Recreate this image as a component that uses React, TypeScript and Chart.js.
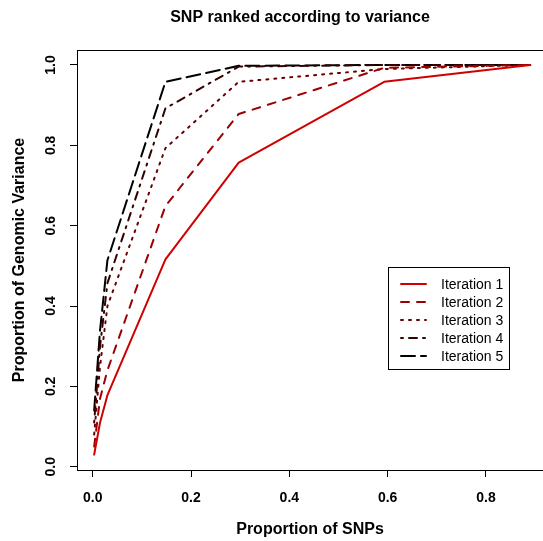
import React, { useEffect, useRef } from "react";
import { Chart, registerables } from "chart.js";

Chart.register(...registerables);

// ---- data ----
const proportionOfSNPs = [0.003, 0.015, 0.03, 0.148, 0.297, 0.593, 0.89];
const iteration1 = [0.03, 0.11, 0.178, 0.516, 0.757, 0.958, 1.0];
const iteration2 = [0.05, 0.17, 0.24, 0.649, 0.878, 0.993, 1.0];
const iteration3 = [0.08, 0.25, 0.4, 0.793, 0.958, 0.99, 1.0];
const iteration4 = [0.11, 0.3, 0.457, 0.892, 0.996, 1.0, 1.0];
const iteration5 = [0.14, 0.34, 0.514, 0.958, 0.998, 1.0, 1.0];
const seriesNames = ["Iteration 1", "Iteration 2", "Iteration 3", "Iteration 4", "Iteration 5"];
const xTickValues = [0, 0.2, 0.4, 0.6, 0.8];
const yTickValues = [0, 0.2, 0.4, 0.6, 0.8, 1.0];
const chartTitle = "SNP ranked according to variance";
const xAxisTitle = "Proportion of SNPs";
const yAxisTitle = "Proportion of Genomic Variance";

// ---- styles ----
const FONT = "'Liberation Sans', Arial, Helvetica, sans-serif";
const seriesColors = ["#D00000", "#9C0000", "#680000", "#340000", "#000000"];
const seriesDashes = [[], [8, 8], [2, 6], [2, 6, 8, 6], [14, 6]];

const overlayPlugin = {
  id: "overlay",
  afterDraw(chart: any) {
    const { ctx, chartArea } = chart;
    ctx.save();
    // top frame line
    ctx.strokeStyle = "#000";
    ctx.lineWidth = 1;
    ctx.setLineDash([]);
    ctx.beginPath();
    const ty = Math.round(chartArea.top) + 0.5;
    ctx.moveTo(chartArea.left, ty);
    ctx.lineTo(chartArea.right, ty);
    ctx.stroke();

    // title
    ctx.fillStyle = "#000";
    ctx.font = `bold 16px ${FONT}`;
    ctx.textAlign = "center";
    ctx.textBaseline = "alphabetic";
    ctx.fillText(chartTitle, 300, 22);

    // legend
    const bx = 388.5, by = 267.5, bw = 121, bh = 102;
    ctx.lineWidth = 1;
    ctx.strokeStyle = "#000";
    ctx.strokeRect(bx, by, bw, bh);
    ctx.font = `14px ${FONT}`;
    ctx.textAlign = "left";
    ctx.textBaseline = "middle";
    chart.data.datasets.forEach((ds: any, i: number) => {
      const y = 284 + i * 18;
      ctx.save();
      ctx.strokeStyle = ds.borderColor;
      ctx.lineWidth = ds.borderWidth;
      ctx.lineCap = "round";
      ctx.setLineDash(ds.borderDash || []);
      ctx.beginPath();
      ctx.moveTo(401, y);
      ctx.lineTo(426, y);
      ctx.stroke();
      ctx.restore();
      ctx.fillStyle = "#000";
      ctx.fillText(ds.label, 441, y + 1);
    });
    ctx.restore();
  },
};

export default function App() {
  const canvasRef = useRef<HTMLCanvasElement | null>(null);

  useEffect(() => {
    const canvas = canvasRef.current;
    if (!canvas) return;
    const allSeries = [iteration1, iteration2, iteration3, iteration4, iteration5];
    const datasets = allSeries.map((vals, i) => ({
      label: seriesNames[i],
      data: vals.map((v, j) => ({ x: proportionOfSNPs[j], y: v })),
      borderColor: seriesColors[i],
      backgroundColor: seriesColors[i],
      borderWidth: 2,
      borderDash: seriesDashes[i],
      borderCapStyle: "round",
      borderJoinStyle: "round",
      pointRadius: 0,
      tension: 0,
      fill: false,
    }));

    const chart = new Chart(canvas, {
      type: "line",
      data: { datasets },
      plugins: [overlayPlugin],
      options: {
        animation: false,
        responsive: false,
        devicePixelRatio: 1,
        layout: { padding: { top: 50, left: 0, right: 0, bottom: 0 } },
        plugins: {
          legend: { display: false },
          title: { display: false },
          tooltip: { enabled: false },
        },
        scales: {
          x: {
            type: "linear",
            min: -0.0319,
            max: 0.916,
            afterBuildTicks: (scale: any) => {
              scale.ticks = xTickValues.map((v) => ({ value: v }));
            },
            afterFit: (scale: any) => {
              scale.height = 71;
            },
            ticks: {
              color: "#000",
              font: { family: FONT, size: 14, weight: "bold" },
              padding: 13,
              maxRotation: 0,
              callback: (v: any) => Number(v).toFixed(1),
            },
            grid: {
              display: true,
              drawOnChartArea: false,
              drawTicks: true,
              tickLength: 7,
              tickColor: "#000",
              color: "#000",
              lineWidth: 1,
            },
            border: { display: true, color: "#000", width: 1 },
            title: {
              display: true,
              text: xAxisTitle,
              color: "#000",
              font: { family: FONT, size: 16, weight: "bold" },
              padding: { top: 0, bottom: 2 },
            },
          },
          y: {
            type: "linear",
            min: -0.0082,
            max: 1.0373,
            afterBuildTicks: (scale: any) => {
              scale.ticks = yTickValues.map((v) => ({ value: v }));
            },
            afterFit: (scale: any) => {
              scale.width = 77;
            },
            ticks: {
              color: "#000",
              font: { family: FONT, size: 14, weight: "bold" },
              padding: 9,
              minRotation: 90,
              maxRotation: 90,
              crossAlign: "center",
              callback: (v: any) => Number(v).toFixed(1),
            },
            grid: {
              display: true,
              drawOnChartArea: false,
              drawTicks: true,
              tickLength: 7,
              tickColor: "#000",
              color: "#000",
              lineWidth: 1,
            },
            border: { display: true, color: "#000", width: 1 },
            title: {
              display: true,
              text: yAxisTitle,
              color: "#000",
              font: { family: FONT, size: 16, weight: "bold" },
              padding: { top: 10, bottom: 0 },
            },
          },
        },
      } as any,
    } as any);

    return () => chart.destroy();
  }, []);

  return (
    <div style={{ position: "absolute", left: 0, top: 0, width: 543, height: 541, background: "#fff" }}>
      <canvas ref={canvasRef} width={543} height={541} style={{ display: "block" }} />
    </div>
  );
}
